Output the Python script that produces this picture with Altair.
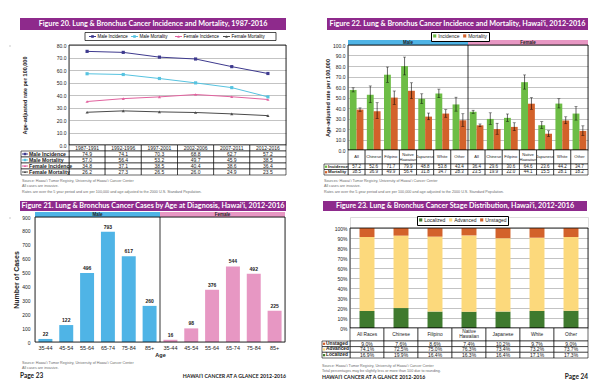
import altair as alt
import pandas as pd

FONT = "Liberation Sans"
TFONT = "Lato"
PURPLE = "#8e2a8c"
BLUE = "#4fb4e6"
PINK = "#e797c3"
GREEN = "#6dbd46"
ORANGE = "#d3622b"
DKGREEN = "#3f7a2e"
YELLOW = "#fcd97c"
GRID = "#a9a9a9"
SRC = "#6b6b6b"
TXT = "#222222"

# ---------------- Figure 20 data ----------------
periods = ["1987-1991", "1992-1996", "1997-2001", "2002-2006", "2007-2011", "2012-2016"]
series20 = ["Male Incidence", "Male Mortality", "Female Incidence", "Female Mortality"]
male_incidence = [74.9, 74.1, 70.3, 68.8, 62.7, 57.2]
male_mortality = [57.0, 56.4, 53.2, 49.7, 45.9, 38.5]
female_incidence = [34.8, 37.1, 38.5, 40.4, 38.6, 36.4]
female_mortality = [26.2, 27.3, 26.5, 26.0, 24.9, 23.5]
colors20 = ["#3e3a8e", "#56c3e0", "#e2639f", "#4b4b4b"]
shapes20 = ["square", "square", "triangle-up", "triangle-up"]

# ---------------- Figure 21 data ----------------
ages = ["35-44", "45-54", "55-64", "65-74", "75-84", "85+"]
male_cases = [22, 122, 496, 793, 617, 260]
female_cases = [16, 98, 376, 544, 492, 225]

# ---------------- Figure 22 data ----------------
races22 = ["All", "Chinese", "Filipino", "Native Hawaiian", "Japanese", "White", "Other"]
measures22 = ["Incidence", "Mortality"]
male_inc22 = [57.2, 52.6, 71.7, 79.9, 48.8, 53.8, 43.4]
male_inc22_lo = [55.3, 45.0, 64.5, 71.5, 44.3, 49.8, 37.0]
male_inc22_hi = [59.2, 61.0, 79.0, 88.5, 53.5, 58.0, 50.3]
male_mort22 = [38.5, 36.9, 49.9, 56.4, 31.8, 34.7, 28.3]
male_mort22_lo = [36.9, 30.0, 43.5, 49.0, 28.8, 31.2, 22.5]
male_mort22_hi = [40.1, 45.0, 56.2, 64.0, 35.2, 38.4, 34.5]
female_inc22 = [36.4, 29.6, 30.6, 64.6, 23.6, 44.2, 34.7]
female_inc22_lo = [34.9, 24.3, 27.2, 58.0, 20.5, 40.0, 28.5]
female_inc22_hi = [37.9, 35.4, 34.3, 71.5, 27.0, 48.8, 41.3]
female_mort22 = [23.5, 19.9, 22.0, 44.1, 15.5, 28.1, 18.2]
female_mort22_lo = [22.3, 15.0, 18.5, 38.8, 13.0, 25.0, 13.9]
female_mort22_hi = [24.8, 25.5, 25.9, 49.8, 18.3, 31.6, 23.0]

# ---------------- Figure 23 data ----------------
races23 = ["All Races", "Chinese", "Filipino", "Native Hawaiian", "Japanese", "White", "Other"]
stages = ["Localized", "Advanced", "Unstaged"]
localized = [16.9, 19.9, 16.4, 16.3, 16.4, 17.1, 17.3]
advanced = [74.1, 72.5, 75.0, 76.3, 73.4, 73.2, 73.7]
unstaged = [9.0, 7.6, 8.6, 7.4, 10.2, 9.7, 9.0]
colors23 = [DKGREEN, YELLOW, ORANGE]

# ---------------- texts ----------------
title20 = "Figure 20. Lung & Bronchus Cancer Incidence and Mortality, 1987-2016"
title21 = "Figure 21. Lung & Bronchus Cancer Cases by Age at Diagnosis, Hawai\u2018i, 2012-2016"
title22 = "Figure 22. Lung & Bronchus Cancer Incidence and Mortality, Hawai\u2018i, 2012-2016"
title23 = "Figure 23. Lung & Bronchus Cancer Stage Distribution, Hawai\u2018i, 2012-2016"
src_line = "Source: Hawai\u2018i Tumor Registry, University of Hawai\u2018i Cancer Center"
src_line22 = "Sources: Hawai\u2018i Tumor Registry, University of Hawai\u2018i Cancer Center"
invasive = "All cases are invasive."
rates20 = "Rates are over the 5 year period and are per 100,000 and age adjusted to the 2000 U.S. Standard Population."
rates22 = "Rates are over the 5-year period and are per 100,000 and age adjusted to the 2000 U.S. Standard Population."
rounding = "Total percentages may be slightly less or more than 100 due to rounding."
footer = "HAWAI\u2018I CANCER AT A GLANCE 2012-2016"

one = pd.DataFrame({"a": [0]})


def box(x, x2, y, y2, fill="white", stroke=None, sw=0.6, opacity=1.0):
    kw = {"fill": fill, "opacity": opacity}
    if stroke is not None:
        kw["stroke"] = stroke
        kw["strokeWidth"] = sw
    return alt.Chart(one).mark_rect(**kw).encode(
        x=alt.value(x), x2=alt.value(x2), y=alt.value(y), y2=alt.value(y2))


def frame(w, y0, y1):
    return alt.Chart(one).mark_rect(fillOpacity=0, stroke="black", strokeWidth=0.8).encode(
        x=alt.value(0), x2=alt.value(w), y=alt.value(y0), y2=alt.value(y1))


def vrule(x, y0, y1, color="black", sw=0.8):
    return alt.Chart(one).mark_rule(color=color, strokeWidth=sw).encode(
        x=alt.value(x), y=alt.value(y0), y2=alt.value(y1))


def txt(s, x, y, size, align="left", weight="normal", color=TXT, font=FONT, baseline="middle"):
    return alt.Chart(one).mark_text(text=s, align=align, baseline=baseline, fontSize=size,
                                    fontWeight=weight, color=color, font=font).encode(
        x=alt.value(x), y=alt.value(y))


def title_bar(s, x, x2, y, y2, size=7.2):
    return [box(x, x2, y, y2, fill=PURPLE),
            txt(s, (x + x2) / 2, (y + y2) / 2 + 0.3, size, align="center", weight="bold",
                color="white", font=TFONT)]


def cells(df, X, step, y0, y1):
    return alt.Chart(df).mark_bar(width=step, fill="white", stroke="black", strokeWidth=0.6).encode(
        x=X, y=alt.value(y0), y2=alt.value(y1))


def cell_text(df, X, field, y, size, fmt=None, weight="normal", typ="Q"):
    if fmt:
        t = alt.Text(field + ":" + typ, format=fmt)
    else:
        t = alt.Text(field + ":" + typ)
    return alt.Chart(df).mark_text(fontSize=size, fontWeight=weight, color=TXT, font=FONT,
                                   baseline="middle").encode(x=X, y=alt.value(y), text=t)


def header_text(df, X, yc, size, gap):
    """Category names in the table header; two-word 'Native Hawaiian' is wrapped on two lines."""
    d = df.copy()
    d["l1"] = [r.split(" ", 1)[0] if r == "Native Hawaiian" else r for r in d["race"]]
    d["l2"] = [r.split(" ", 1)[1] if r == "Native Hawaiian" else "" for r in d["race"]]
    base = alt.Chart(d).mark_text(fontSize=size, color=TXT, font=FONT, baseline="middle")
    return [base.transform_filter("datum.l2 == ''").encode(x=X, y=alt.value(yc), text="l1:N"),
            base.transform_filter("datum.l2 != ''").encode(x=X, y=alt.value(yc - gap), text="l1:N"),
            base.transform_filter("datum.l2 != ''").encode(x=X, y=alt.value(yc + gap), text="l2:N")]


def sym_point(color, shape, x, y, size=6):
    return alt.Chart(one).mark_point(shape=shape, filled=True, size=size, color=color, opacity=1).encode(
        x=alt.value(x), y=alt.value(y))


def sym_rule(color, x0, x1, y):
    return alt.Chart(one).mark_rule(color=color, strokeWidth=1).encode(
        x=alt.value(x0), x2=alt.value(x1), y=alt.value(y))


rate_axis = dict(format=".1f", grid=True, gridColor=GRID, gridWidth=0.7, domain=False, ticks=False,
                 labelFontSize=5, labelColor=TXT, labelPadding=3, labelFont=FONT,
                 title="Age-adjusted rate per 100,000", titleFontSize=5.5, titleFontWeight="bold",
                 titleColor=TXT, titleFont=FONT, titleBaseline="middle")

# ================= Figure 20 =================
W20, H20 = 217, 100
vals20 = [male_incidence, male_mortality, female_incidence, female_mortality]
df20 = pd.DataFrame([{"series": s, "period": p, "value": v}
                     for s, vs in zip(series20, vals20) for p, v in zip(periods, vs)])
dfp20 = pd.DataFrame({"period": periods})
step20 = W20 / len(periods)
X20 = alt.X("period:N", sort=periods, scale=alt.Scale(domain=periods, paddingInner=0, paddingOuter=0), axis=None)
Y20 = alt.Y("value:Q", scale=alt.Scale(domain=[0, 80], nice=False),
            axis=alt.Axis(values=list(range(0, 81, 10)), titleX=-45, titleY=50, **rate_axis))
cs20 = alt.Scale(domain=series20, range=colors20)
lines20 = alt.Chart(df20).mark_line(strokeWidth=1).encode(
    x=X20, y=Y20, color=alt.Color("series:N", scale=cs20, legend=None))
pts20 = alt.Chart(df20).mark_point(filled=True, size=10, opacity=1).encode(
    x=X20, y=Y20, color=alt.Color("series:N", scale=cs20, legend=None),
    shape=alt.Shape("series:N", scale=alt.Scale(domain=series20, range=shapes20), legend=None))

L20 = [box(-57, -56, 0, 1, opacity=0), box(0, 1, 153, 154, opacity=0)]
L20 += title_bar(title20, -49, 217, -27, -15)
# legend box (line + marker + label for each series)
L20 += [box(16, 207, -12.5, -4.5, fill="white", stroke="black", sw=0.7)]
leg20_x = [20, 62, 106, 154]
for i, s in enumerate(series20):
    lx = leg20_x[i]
    L20 += [sym_rule(colors20[i], lx, lx + 7, -8.5), sym_point(colors20[i], shapes20[i], lx + 3.5, -8.5, 7),
            txt(s, lx + 8.5, -8.3, 4.5, color="black")]
L20 += [lines20, pts20, frame(W20, 0, H20)]
L20 += [cells(dfp20, X20, step20, 100, 106), cell_text(dfp20, X20, "period", 103, 5, typ="N")]
rows20 = [106, 112, 118, 124, 130]
for i, s in enumerate(series20):
    y0, y1 = rows20[i], rows20[i + 1]
    ym = (y0 + y1) / 2
    sub = df20[df20.series == s]
    L20 += [cells(sub, X20, step20, y0, y1), cell_text(sub, X20, "value", ym, 5, ".1f"),
            box(-48, 0, y0, y1, fill="white", stroke="black"),
            sym_rule(colors20[i], -47, -41, ym), sym_point(colors20[i], shapes20[i], -44, ym),
            txt(s, -40, ym, 5.2, weight="bold")]
L20 += [txt(src_line, -47, 136, 3.7, color=SRC), txt(invasive, -47, 140.5, 3.7, color=SRC),
        txt(rates20, -47, 147, 3.7, color=SRC)]
P20 = alt.layer(*L20).properties(width=W20, height=H20)

# ================= Figure 21 =================
W21, H21 = 250, 125
keys21 = [f"Male|{a}" for a in ages] + [f"Female|{a}" for a in ages]
df21 = pd.DataFrame({"key": keys21, "sex": ["Male"] * 6 + ["Female"] * 6,
                     "count": male_cases + female_cases})
X21 = alt.X("key:N", sort=keys21, scale=alt.Scale(domain=keys21, paddingInner=0.33, paddingOuter=0.165),
            axis=alt.Axis(labelExpr="split(datum.label, '|')[1]", labelAngle=0, labelFontSize=5.5,
                          labelColor=TXT, labelFont=FONT, labelPadding=3, ticks=False, domain=False,
                          title="Age", titleFontSize=5.5, titleFontWeight="bold", titleColor=TXT,
                          titleFont=FONT, titlePadding=2))
Y21 = alt.Y("count:Q", scale=alt.Scale(domain=[0, 900], nice=False),
            axis=alt.Axis(values=list(range(0, 901, 100)), grid=False, ticks=False, domain=False,
                          labelFontSize=5, labelColor=TXT, labelFont=FONT, labelPadding=5,
                          title="Number of Cases", titleFontSize=7, titleFontWeight="bold",
                          titleColor=TXT, titleFont=FONT, titleX=-19, titleY=62.5, titleBaseline="middle"))
bars21 = alt.Chart(df21).mark_bar().encode(
    x=X21, y=Y21, color=alt.Color("sex:N", scale=alt.Scale(domain=["Male", "Female"], range=[BLUE, PINK]),
                                  legend=None))
lab21 = alt.Chart(df21).mark_text(dy=-2, baseline="bottom", fontSize=5, fontWeight="bold", color=TXT,
                                  font=FONT).encode(x=X21, y=Y21, text="count:Q")
L21 = [box(-23, -22, 0, 1, opacity=0)]
L21 += title_bar(title21, -15, 251, -16, -6)
L21 += [box(0, 125, -5, 0, fill=BLUE), box(125, 250, -5, 0, fill=PINK),
        txt("Male", 62.5, -2.4, 4.5, align="center", weight="bold"),
        txt("Female", 187.5, -2.4, 4.5, align="center", weight="bold")]
L21 += [bars21, lab21, vrule(125, 0, 125), frame(W21, 0, H21)]
L21 += [txt(src_line, -13, 146, 3.7, color=SRC), txt(invasive, -13, 151, 3.7, color=SRC),
        txt("Page 23", -15, 159, 6.5, weight="bold", font=TFONT),
        txt(footer, 251, 159, 5.2, align="right", weight="bold", font=TFONT)]
P21 = alt.layer(*L21).properties(width=W21, height=H21)

# ================= Figure 22 =================
W22, H22 = 240, 105
keys22 = [f"Male|{r}" for r in races22] + [f"Female|{r}" for r in races22]
recs = []
for sex, inc, ilo, ihi, mort, mlo, mhi in [
        ("Male", male_inc22, male_inc22_lo, male_inc22_hi, male_mort22, male_mort22_lo, male_mort22_hi),
        ("Female", female_inc22, female_inc22_lo, female_inc22_hi, female_mort22, female_mort22_lo, female_mort22_hi)]:
    for j, r in enumerate(races22):
        recs.append({"key": f"{sex}|{r}", "race": r, "measure": "Incidence", "value": inc[j], "lo": ilo[j], "hi": ihi[j]})
        recs.append({"key": f"{sex}|{r}", "race": r, "measure": "Mortality", "value": mort[j], "lo": mlo[j], "hi": mhi[j]})
df22 = pd.DataFrame(recs)
dfk22 = pd.DataFrame({"key": keys22, "race": races22 + races22})
step22 = W22 / len(keys22)
X22 = alt.X("key:N", sort=keys22, scale=alt.Scale(domain=keys22, paddingInner=0.2, paddingOuter=0.1), axis=None)
XO22 = alt.XOffset("measure:N", sort=measures22,
                   scale=alt.Scale(domain=measures22, paddingInner=0, paddingOuter=0))
ys22 = alt.Scale(domain=[0, 100], nice=False)
ax22 = alt.Axis(values=list(range(0, 101, 10)), titleX=-21, titleY=52.5, **rate_axis)
leg22 = alt.Legend(title=None, orient="none", legendX=83, legendY=-13, direction="horizontal",
                   strokeColor="black", fillColor="white", padding=1.2, labelFontSize=5, labelFont=FONT,
                   labelColor=TXT, symbolType="square", symbolSize=10, columnPadding=2, labelOffset=1)
bars22 = alt.Chart(df22).mark_bar().encode(
    x=X22, xOffset=XO22, y=alt.Y("value:Q", scale=ys22, axis=ax22),
    color=alt.Color("measure:N", scale=alt.Scale(domain=measures22, range=[GREEN, ORANGE]), legend=leg22))
err22 = alt.Chart(df22).mark_rule(color="black", strokeWidth=0.6).encode(
    x=X22, xOffset=XO22, y=alt.Y("lo:Q", scale=ys22, axis=ax22), y2="hi:Q")
caplo22 = alt.Chart(df22).mark_tick(color="black", thickness=0.6, size=3).encode(
    x=X22, xOffset=XO22, y=alt.Y("lo:Q", scale=ys22, axis=ax22))
caphi22 = alt.Chart(df22).mark_tick(color="black", thickness=0.6, size=3).encode(
    x=X22, xOffset=XO22, y=alt.Y("hi:Q", scale=ys22, axis=ax22))
L22 = [box(-60, -59, 0, 1, opacity=0), box(0, 1, 153, 154, opacity=0)]
L22 += title_bar(title22, -21, 240, -27, -15)
L22 += [box(0, 120, -5, 0, fill=BLUE), box(120, 240, -5, 0, fill=PINK),
        txt("Male", 60, -2.4, 4.5, align="center", weight="bold"),
        txt("Female", 180, -2.4, 4.5, align="center", weight="bold")]
L22 += [bars22, err22, caplo22, caphi22, vrule(120, 0, 105), frame(W22, 0, H22)]
L22 += [cells(dfk22, X22, step22, 105, 119)] + header_text(dfk22, X22, 112, 4.1, 2.5)
rows22 = [119, 124.5, 130]
for i, m in enumerate(measures22):
    y0, y1 = rows22[i], rows22[i + 1]
    ym = (y0 + y1) / 2
    sub = df22[df22.measure == m]
    L22 += [cells(sub, X22, step22, y0, y1), cell_text(sub, X22, "value", ym, 4.5, ".1f"),
            box(-24, 0, y0, y1, fill="white", stroke="black"),
            sym_point([GREEN, ORANGE][i], "square", -22, ym, 5),
            txt(m, -20, ym, 4.4, weight="bold")]
L22 += [txt(src_line22, -24, 136, 3.7, color=SRC), txt(invasive, -24, 141, 3.7, color=SRC),
        txt(rates22, -24, 147, 3.7, color=SRC)]
P22 = alt.layer(*L22).properties(width=W22, height=H22)

# ================= Figure 23 =================
W23, H23 = 238, 111
recs = []
for k, (st, vs) in enumerate(zip(stages, [localized, advanced, unstaged])):
    for r, v in zip(races23, vs):
        recs.append({"race": r, "stage": st, "value": v, "ord": k})
df23 = pd.DataFrame(recs)
dfr23 = pd.DataFrame({"race": races23})
step23 = W23 / len(races23)
X23 = alt.X("race:N", sort=races23, scale=alt.Scale(domain=races23, paddingInner=0.56, paddingOuter=0.28), axis=None)
ys23 = alt.Scale(domain=[0, 100], nice=False, range=[111, 11])
ax23 = alt.Axis(values=list(range(0, 101, 10)), labelExpr="datum.value + '%'", grid=True, gridColor=GRID,
                gridWidth=0.7, domain=False, ticks=False, labelFontSize=5, labelColor=TXT, labelFont=FONT,
                labelPadding=3, title=None)
leg23 = alt.Legend(title=None, orient="none", legendX=67, legendY=-1, direction="horizontal",
                   strokeColor="black", fillColor="white", padding=1.2, labelFontSize=5, labelFont=FONT,
                   labelColor=TXT, symbolType="square", symbolSize=10, columnPadding=2, labelOffset=1)
bars23 = alt.Chart(df23).mark_bar().encode(
    x=X23, y=alt.Y("value:Q", stack="zero", scale=ys23, axis=ax23),
    color=alt.Color("stage:N", scale=alt.Scale(domain=stages, range=colors23), legend=leg23),
    order=alt.Order("ord:Q"))
L23 = [box(-62, -61, 11, 12, opacity=0)]
L23 += title_bar(title23, -27, 237, -16, -6)
L23 += [bars23, frame(W23, 11, 111)]
L23 += [cells(dfr23, X23, step23, 111, 124)] + header_text(dfr23, X23, 117.5, 4.8, 2.6)
rows23 = [124, 129.6, 135.3, 141]
order23 = ["Unstaged", "Advanced", "Localized"]
for i, st in enumerate(order23):
    y0, y1 = rows23[i], rows23[i + 1]
    ym = (y0 + y1) / 2
    sub = df23[df23.stage == st]
    L23 += [cells(sub, X23, step23, y0, y1),
            alt.Chart(sub).transform_calculate(lbl="format(datum.value, '.1f') + '%'").mark_text(
                fontSize=5, color=TXT, font=FONT, baseline="middle").encode(
                x=X23, y=alt.value(ym), text="lbl:N"),
            box(-28, 0, y0, y1, fill="white", stroke="black"),
            sym_point(colors23[stages.index(st)], "square", -26, ym, 5),
            txt(st, -24, ym, 4.8, weight="bold")]
L23 += [txt(src_line, -28, 149, 3.7, color=SRC), txt(rounding, -28, 154, 3.7, color=SRC),
        txt(footer, -28, 160, 5.2, weight="bold", font=TFONT),
        txt("Page 24", 238, 160, 6.5, align="right", weight="bold", font=TFONT)]
P23 = alt.layer(*L23).properties(width=W23, height=H23)


def spacer():
    return alt.Chart(one).mark_rect(opacity=0).encode(
        x=alt.value(0), x2=alt.value(1), y=alt.value(0), y2=alt.value(1)).properties(width=1, height=1)


ind = dict(color="independent", shape="independent", x="independent", y="independent")
row1 = alt.hconcat(spacer(), P20, P22, spacing=0).resolve_scale(**ind)
row2 = alt.hconcat(spacer(), P21, P23, spacing=0).resolve_scale(**ind)
chart = alt.vconcat(row1, row2, spacing=0).resolve_scale(
    color="independent", shape="independent").properties(
    padding={"left": 0, "top": 9, "right": 0, "bottom": 0}).configure_view(stroke=None).configure(font=FONT)

chart.save("out.html", embed_options={"renderer": "svg", "actions": False})
